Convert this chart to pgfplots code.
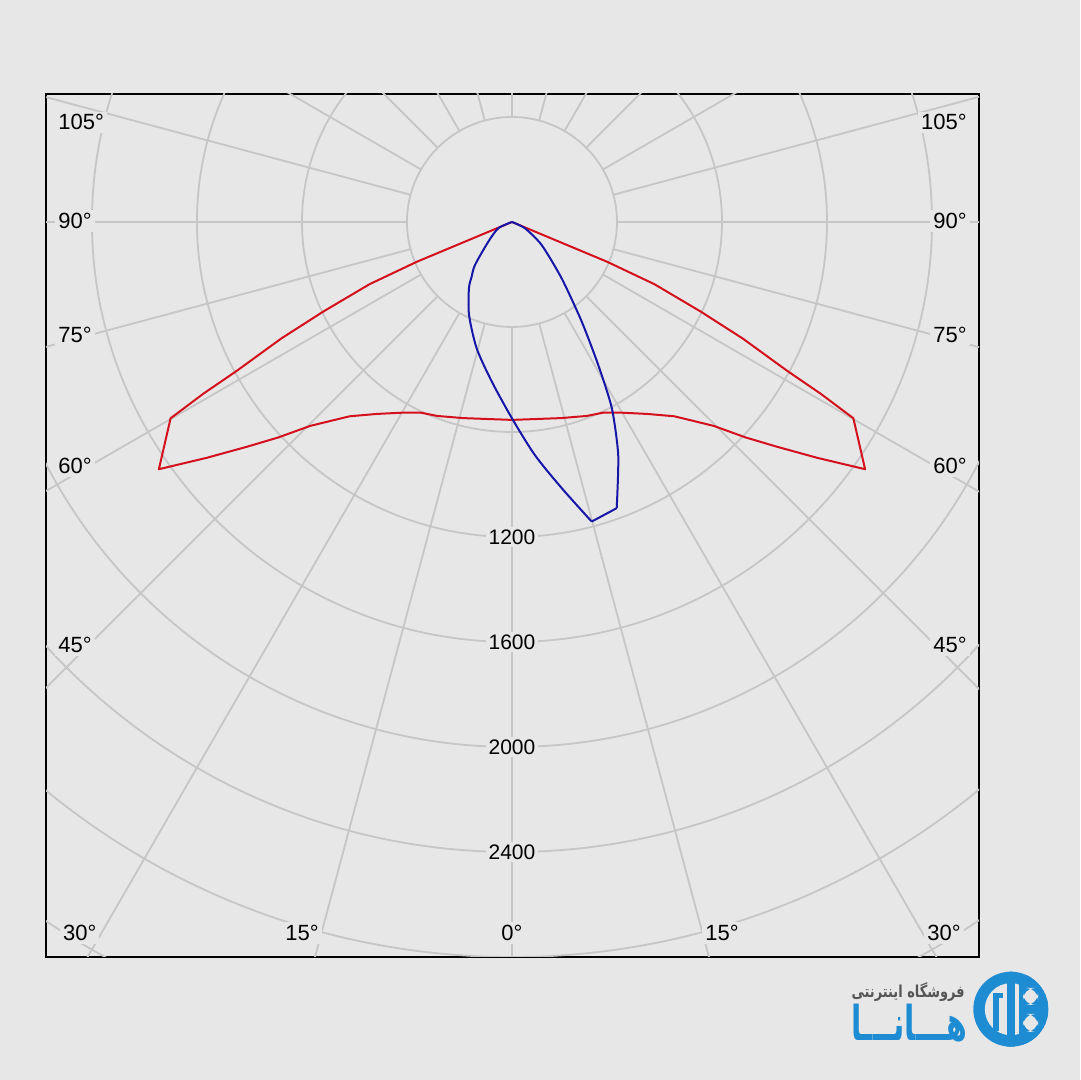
\documentclass[border=0pt]{standalone}
\usepackage{fontspec}
\setmainfont{Liberation Sans}
\newfontfamily\arabicfont[Script=Arabic]{DejaVu Sans}
\TeXXeTstate=1
\usepackage{graphicx}
\usepackage{pgfplots}
\pgfplotsset{compat=1.18}
\usepgfplotslibrary{polar}
\usepackage{pgfplotstable}

\definecolor{bg}{RGB}{231,231,231}
\definecolor{gridc}{RGB}{198,198,198}
\definecolor{redc}{RGB}{212,16,28}
\definecolor{bluec}{RGB}{22,22,168}
\definecolor{logob}{RGB}{30,140,210}
\definecolor{txtg}{RGB}{85,85,85}

% photometric angle t (0 = down, negative = left half), intensity I
\pgfplotstableread{
t I
-90 0
-67.3 393
-66.4 592
-64.6 796
-63.2 985
-61.6 1190
-60.9 1347
-60.1 1500
-55.0 1642
-52.3 1469
-49.7 1324
-47.3 1210
-44.7 1093
-39.9 965
-35.2 895
-29.9 838
-25.5 805
-21.1 792
-14.0 770
0 754
14.0 770
21.1 792
25.5 805
29.9 838
35.2 895
39.9 965
44.7 1093
47.3 1210
49.7 1324
52.3 1469
55.0 1642
60.1 1500
60.9 1347
61.6 1190
63.2 985
64.6 796
66.4 592
67.3 393
90 0
}\redtab

\pgfplotstableread{
t I
-90 0
-65.3 57
-50.3 117
-40.7 216
-36.4 259
-33.0 301
-24.8 390
-15.6 500
-7.2 613
0 748
5.6 892
10.6 1032
14.9 1181
}\bluetabA

\pgfplotstableread{
t I
14.9 1181
20.1 1161
}\bluetabB

\pgfplotstableread{
t I
20.1 1161
24.5 976
28.2 805
31.1 636
35.0 463
41.4 286
52.2 143
64.1 55
90 0
}\bluetabC

\begin{document}
\begin{tikzpicture}
\fill[bg] (0,0) rectangle (540pt,540pt);
\begin{axis}[
  at={(23pt,61.5pt)}, anchor=south west,
  scale only axis, width=466.5pt, height=431.5pt,
  xmin=-1775, xmax=1779, ymin=-2800, ymax=487.6,
  xtick=\empty, ytick=\empty,
  axis line style={black, line width=0.9pt},
  axis background/.style={fill=bg},
  clip=true,
]
\pgfplotsinvokeforeach{400,800,...,4800}{
  \draw[gridc, line width=0.9pt] (axis cs:0,0) circle[radius=#1];
}
\pgfplotsinvokeforeach{0,15,...,345}{
  \draw[gridc, line width=0.9pt] (axis cs:{400*cos(#1)},{400*sin(#1)}) -- (axis cs:{6000*cos(#1)},{6000*sin(#1)});
}
\addplot[redc, line width=1pt, data cs=polar, line join=round] table[x expr=\thisrow{t}-90, y=I]{\redtab};
\addplot[bluec, line width=1pt, data cs=polar, smooth, tension=0.45] table[x expr=\thisrow{t}-90, y=I]{\bluetabA};
\addplot[bluec, line width=1pt, data cs=polar] table[x expr=\thisrow{t}-90, y=I]{\bluetabB};
\addplot[bluec, line width=1pt, data cs=polar, smooth, tension=0.4] table[x expr=\thisrow{t}-90, y=I]{\bluetabC};
\pgfplotsinvokeforeach{1200,1600,2000,2400}{
  \node[fill=bg, inner sep=1.5pt, font=\fontsize{10.5pt}{12pt}\selectfont] at (axis cs:0,-#1) {#1};
}
\end{axis}

\begin{scope}[x=0.5pt, y=-0.5pt, yshift=540pt,
  lab/.style={fill=bg, inner sep=1.5pt, font=\fontsize{11pt}{13pt}\selectfont}]
  % left angle labels
  \node[lab, anchor=west] at (55,122.4) {105°};
  \node[lab, anchor=west] at (55,221.3) {90°};
  \node[lab, anchor=west] at (55,334.7) {75°};
  \node[lab, anchor=west] at (55,466) {60°};
  \node[lab, anchor=west] at (55,645.3) {45°};
  % right angle labels
  \node[lab, anchor=east] at (970,122.4) {105°};
  \node[lab, anchor=east] at (970,221.3) {90°};
  \node[lab, anchor=east] at (970,334.7) {75°};
  \node[lab, anchor=east] at (970,466) {60°};
  \node[lab, anchor=east] at (970,645.3) {45°};
  % bottom labels
  \node[lab] at (79.7,933) {30°};
  \node[lab] at (302,933) {15°};
  \node[lab] at (512,933) {0°};
  \node[lab] at (722,933) {15°};
  \node[lab] at (944,933) {30°};

  % logo text
  \node[anchor=east, inner sep=0, text=txtg] at (965,992)
    {\resizebox*{56.5pt}{9.5pt}{\arabicfont\bfseries\beginR فروشگاه اینترنتی\endR}};
  \node[anchor=east, inner sep=0, text=logob] at (968,1023)
    {\resizebox*{58pt}{19pt}{\arabicfont\bfseries\beginR هـــانـــا\endR}};

  % logo mark
  \begin{scope}
    \clip (1010.8,1009.2) circle[radius=37.5];
    \fill[logob] (1010.8,1009.2) circle[radius=37.5];
    \fill[bg] (1010.8,1009.2) circle[radius=26];
    \fill[logob] (1006.5,965) rectangle (1015,1055);
    \fill[logob] (993,994) rectangle (998.5,1031);
    \fill[logob] (993,993) rectangle (1003,998.5);
    \fill[logob] (1019,975) rectangle (1050,1045);
    \fill[bg, rounded corners=6] (1023,988) rectangle (1038,1005);
    \fill[bg, rounded corners=6] (1023,1014) rectangle (1038,1032);
  \end{scope}
\end{scope}
\end{tikzpicture}
\end{document}
